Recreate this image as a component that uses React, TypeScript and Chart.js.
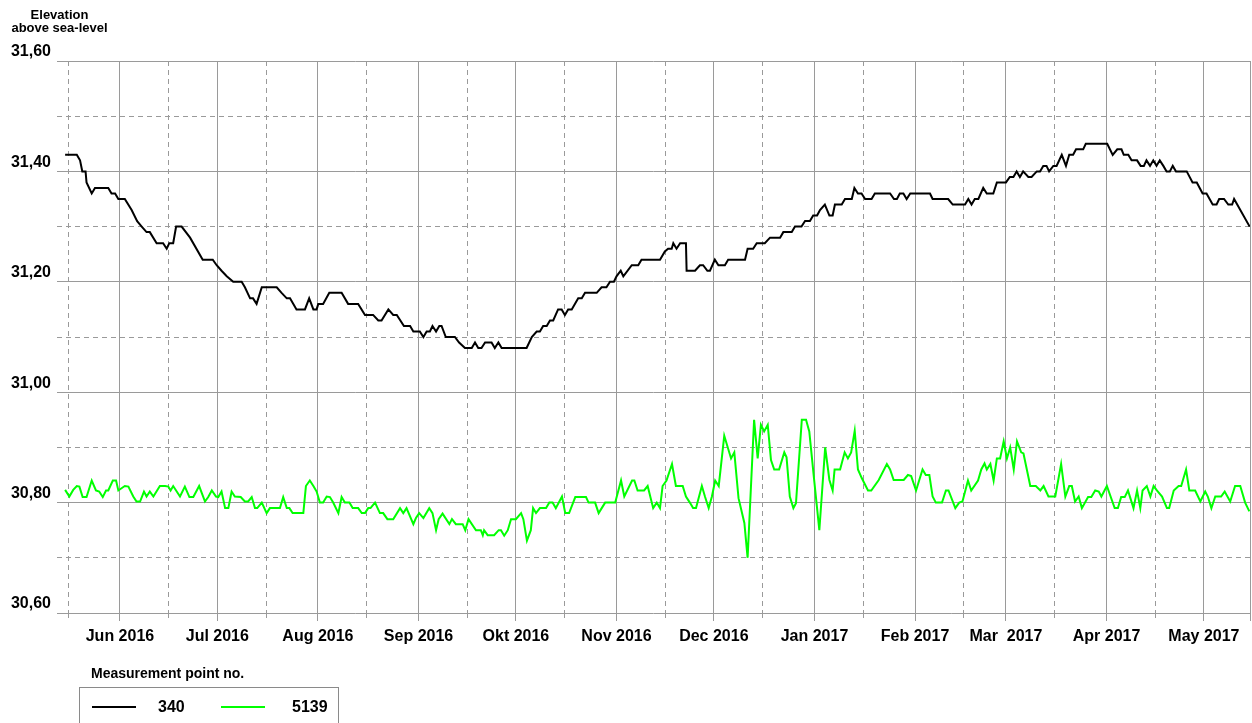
import React, { useEffect, useRef } from 'react';
import { Chart, registerables } from 'chart.js';

Chart.register(...registerables);

const FONT = "'Liberation Sans', Arial, Helvetica, sans-serif";

// x values are days counted from 1 June 2016
const MONTH_LABELS = ['Jun 2016', 'Jul 2016', 'Aug 2016', 'Sep 2016', 'Okt 2016', 'Nov 2016', 'Dec 2016', 'Jan 2017', 'Feb 2017', 'Mar  2017', 'Apr 2017', 'May 2017'];
const MONTH_START_DAYS = [0, 30, 61, 92, 122, 153, 183, 214, 245, 273, 304, 334];
const MID_MONTH_DAYS = [-16, 15, 45, 76, 107, 137, 168, 198, 229, 260, 288, 319];
const X_MIN = -19.4;
const X_MAX = 348.2;

const Y_MIN = 30.6;
const Y_MAX = 31.6;
const Y_STEP = 0.1;

const AXIS_TITLE = ['Elevation', 'above sea-level'];
const LEGEND_TITLE = 'Measurement point no.';
const SERIES_NAMES = ['340', '5139'];
const SERIES_COLORS = ['#000000', '#00ff00'];

// [day, elevation]
const LEVEL_340: [number, number][] = [
  [-16.9, 31.43], [-13.3, 31.43], [-12.3, 31.42], [-11.6, 31.40], [-10.6, 31.40], [-10.3, 31.38], [-8.7, 31.36], [-7.7, 31.37],
  [-3.6, 31.37], [-2.6, 31.36], [-1.5, 31.36], [-0.5, 31.35], [1.5, 31.35], [3.6, 31.33], [5.3, 31.31], [6.7, 31.30],
  [8.2, 31.29], [9.2, 31.29], [11.3, 31.27], [13.3, 31.27], [14.4, 31.26], [15.2, 31.27], [16.4, 31.27], [17.3, 31.30],
  [19.0, 31.30], [21.6, 31.28], [25.5, 31.24], [28.6, 31.24], [29.8, 31.23], [31.3, 31.22], [32.9, 31.21], [34.9, 31.20],
  [37.5, 31.20], [38.5, 31.19], [40.1, 31.17], [41.0, 31.17], [42.1, 31.16], [43.7, 31.19], [48.3, 31.19], [49.8, 31.18],
  [51.4, 31.17], [52.4, 31.17], [54.4, 31.15], [57.0, 31.15], [58.3, 31.17], [59.6, 31.15], [60.6, 31.15], [61.1, 31.16],
  [62.6, 31.16], [64.5, 31.18], [68.3, 31.18], [70.3, 31.16], [73.4, 31.16], [75.5, 31.14], [78.0, 31.14], [79.6, 31.13],
  [80.6, 31.13], [82.7, 31.15], [84.2, 31.14], [85.3, 31.14], [87.5, 31.12], [89.4, 31.12], [90.4, 31.11], [92.4, 31.11],
  [93.5, 31.10], [94.5, 31.11], [95.5, 31.11], [96.3, 31.12], [97.4, 31.11], [98.4, 31.12], [99.1, 31.12], [100.4, 31.10],
  [103.2, 31.10], [104.5, 31.09], [106.3, 31.08], [108.4, 31.08], [109.4, 31.09], [110.4, 31.08], [111.4, 31.08], [112.5, 31.09],
  [114.5, 31.09], [115.5, 31.08], [116.6, 31.09], [117.6, 31.08], [125.3, 31.08], [126.9, 31.10], [128.4, 31.11], [129.4, 31.11],
  [130.4, 31.12], [131.5, 31.12], [132.5, 31.13], [133.5, 31.13], [135.0, 31.15], [136.1, 31.15], [137.1, 31.14], [138.1, 31.15],
  [139.2, 31.15], [141.2, 31.17], [142.3, 31.17], [143.3, 31.18], [146.9, 31.18], [148.4, 31.19], [149.9, 31.19], [151.0, 31.20],
  [152.2, 31.20], [153.0, 31.21], [154.3, 31.22], [155.1, 31.21], [157.7, 31.23], [159.7, 31.23], [160.7, 31.24], [166.4, 31.24],
  [167.9, 31.255], [168.9, 31.26], [170.0, 31.26], [170.5, 31.27], [171.5, 31.26], [172.6, 31.27], [174.4, 31.27], [174.6, 31.22],
  [177.2, 31.22], [178.7, 31.23], [179.7, 31.23], [181.0, 31.22], [181.8, 31.22], [183.3, 31.24], [184.4, 31.23], [186.4, 31.23],
  [187.4, 31.24], [192.6, 31.24], [193.4, 31.26], [195.1, 31.26], [196.2, 31.27], [198.7, 31.27], [200.3, 31.28], [203.4, 31.28],
  [204.4, 31.29], [207.0, 31.29], [208.0, 31.30], [210.0, 31.30], [211.1, 31.31], [212.6, 31.31], [213.6, 31.32], [214.8, 31.32],
  [215.7, 31.33], [217.2, 31.34], [218.6, 31.32], [219.6, 31.32], [220.3, 31.34], [222.4, 31.34], [223.4, 31.35], [225.5, 31.35],
  [226.3, 31.37], [227.4, 31.36], [228.5, 31.36], [229.6, 31.35], [231.6, 31.35], [232.6, 31.36], [237.3, 31.36], [238.5, 31.35],
  [239.4, 31.35], [240.3, 31.36], [241.4, 31.36], [242.4, 31.35], [243.5, 31.36], [249.6, 31.36], [250.4, 31.35], [255.2, 31.35],
  [256.6, 31.34], [260.4, 31.34], [261.4, 31.35], [262.4, 31.34], [263.4, 31.35], [264.5, 31.35], [266.0, 31.37], [267.1, 31.36],
  [269.1, 31.36], [270.2, 31.38], [273.0, 31.38], [274.2, 31.39], [275.3, 31.39], [276.3, 31.40], [277.3, 31.39], [278.3, 31.40],
  [279.9, 31.39], [280.9, 31.39], [282.5, 31.40], [283.5, 31.40], [284.5, 31.41], [285.5, 31.41], [286.3, 31.40], [287.6, 31.41],
  [288.6, 31.41], [290.2, 31.43], [291.5, 31.41], [292.5, 31.43], [293.7, 31.43], [294.6, 31.44], [296.8, 31.44], [297.6, 31.45],
  [304.2, 31.45], [305.9, 31.43], [307.3, 31.44], [308.6, 31.44], [309.3, 31.43], [310.7, 31.43], [311.7, 31.42], [313.4, 31.42],
  [314.5, 31.41], [315.5, 31.41], [316.3, 31.42], [317.4, 31.41], [318.4, 31.42], [319.4, 31.41], [320.4, 31.42], [321.5, 31.41],
  [322.5, 31.40], [323.5, 31.40], [324.4, 31.41], [325.4, 31.40], [328.7, 31.40], [330.5, 31.38], [331.8, 31.38], [333.6, 31.36],
  [334.8, 31.36], [336.7, 31.34], [337.9, 31.34], [338.7, 31.35], [340.2, 31.35], [341.5, 31.34], [342.7, 31.34], [343.3, 31.35],
  [348.1, 31.30],
];

// [day, elevation]
const LEVEL_5139: [number, number][] = [
  [-16.9, 30.823], [-15.6, 30.811], [-14.4, 30.823], [-13.3, 30.83], [-12.5, 30.829], [-11.5, 30.81], [-10.3, 30.81], [-8.7, 30.84],
  [-7.4, 30.822], [-6.4, 30.82], [-5.3, 30.81], [-4.3, 30.822], [-3.6, 30.822], [-2.2, 30.84], [-1.2, 30.84], [-0.5, 30.822],
  [1.5, 30.83], [2.6, 30.829], [4.1, 30.811], [5.1, 30.802], [6.2, 30.802], [7.4, 30.82], [8.2, 30.811], [9.2, 30.82],
  [10.3, 30.811], [12.3, 30.83], [13.9, 30.83], [14.9, 30.829], [15.6, 30.822], [16.4, 30.83], [18.5, 30.811], [20.0, 30.829],
  [21.4, 30.81], [22.6, 30.81], [24.4, 30.83], [26.2, 30.802], [27.2, 30.81], [28.3, 30.822], [29.6, 30.811], [30.3, 30.81],
  [31.3, 30.82], [32.4, 30.79], [33.4, 30.79], [34.4, 30.82], [35.4, 30.811], [37.2, 30.81], [38.5, 30.802], [39.5, 30.802],
  [40.6, 30.81], [41.6, 30.79], [42.3, 30.79], [43.7, 30.80], [45.2, 30.781], [46.2, 30.79], [49.3, 30.79], [50.3, 30.81],
  [51.4, 30.79], [52.2, 30.79], [53.2, 30.781], [56.5, 30.781], [57.3, 30.83], [58.5, 30.84], [59.6, 30.83], [60.6, 30.82],
  [61.6, 30.80], [62.6, 30.80], [63.7, 30.811], [64.7, 30.81], [65.7, 30.80], [67.3, 30.781], [68.3, 30.81], [69.3, 30.80],
  [70.7, 30.80], [71.7, 30.79], [73.4, 30.79], [74.5, 30.781], [75.5, 30.781], [76.5, 30.79], [77.2, 30.79], [78.6, 30.80],
  [80.1, 30.781], [81.1, 30.781], [82.4, 30.77], [84.2, 30.77], [86.3, 30.79], [87.3, 30.781], [88.3, 30.79], [90.4, 30.761],
  [91.2, 30.772], [92.2, 30.781], [93.5, 30.772], [95.3, 30.79], [96.3, 30.781], [97.4, 30.75], [98.2, 30.77], [99.4, 30.78],
  [101.5, 30.761], [102.3, 30.77], [103.5, 30.761], [105.6, 30.761], [106.4, 30.75], [107.4, 30.77], [109.7, 30.75], [111.2, 30.75],
  [111.8, 30.741], [112.2, 30.75], [113.3, 30.741], [115.3, 30.741], [116.7, 30.75], [117.4, 30.75], [118.4, 30.74], [119.5, 30.75],
  [120.5, 30.77], [122.0, 30.77], [123.6, 30.781], [124.3, 30.77], [125.4, 30.731], [126.6, 30.75], [127.3, 30.79], [128.2, 30.781],
  [129.4, 30.79], [131.3, 30.79], [132.3, 30.80], [133.3, 30.80], [134.3, 30.79], [136.2, 30.811], [137.2, 30.781], [138.4, 30.781],
  [140.3, 30.81], [143.6, 30.81], [144.4, 30.80], [146.4, 30.80], [147.5, 30.781], [149.5, 30.80], [152.6, 30.80], [154.4, 30.84],
  [155.4, 30.811], [157.8, 30.84], [158.5, 30.84], [159.5, 30.822], [161.5, 30.822], [162.6, 30.83], [164.3, 30.79], [165.4, 30.80],
  [166.4, 30.79], [167.2, 30.83], [168.4, 30.84], [170.1, 30.87], [171.3, 30.83], [173.4, 30.83], [174.4, 30.811], [175.6, 30.80],
  [176.6, 30.79], [177.5, 30.79], [179.3, 30.83], [180.3, 30.81], [181.4, 30.79], [182.4, 30.811], [183.4, 30.84], [184.5, 30.83],
  [186.2, 30.921], [188.3, 30.88], [189.3, 30.891], [190.6, 30.808], [192.4, 30.763], [193.4, 30.70], [195.4, 30.95], [196.5, 30.88],
  [197.5, 30.941], [198.5, 30.929], [199.6, 30.941], [200.6, 30.877], [201.6, 30.86], [203.1, 30.86], [204.7, 30.891], [205.4, 30.882],
  [206.4, 30.811], [207.5, 30.79], [208.3, 30.799], [210.1, 30.95], [211.4, 30.95], [212.4, 30.929], [213.9, 30.841], [215.5, 30.75],
  [217.3, 30.90], [218.6, 30.841], [219.6, 30.822], [220.2, 30.86], [221.9, 30.86], [223.3, 30.891], [224.3, 30.88], [225.3, 30.891],
  [226.4, 30.93], [227.4, 30.86], [228.6, 30.844], [230.5, 30.822], [231.5, 30.822], [233.8, 30.841], [236.3, 30.87], [237.3, 30.86],
  [238.4, 30.841], [241.5, 30.841], [242.8, 30.85], [243.8, 30.848], [245.3, 30.822], [247.3, 30.86], [248.3, 30.85], [249.4, 30.85],
  [250.4, 30.811], [251.4, 30.80], [253.3, 30.80], [254.5, 30.822], [255.3, 30.822], [257.4, 30.79], [258.6, 30.80], [259.6, 30.802],
  [261.3, 30.84], [262.3, 30.822], [264.4, 30.84], [265.4, 30.86], [266.4, 30.871], [267.1, 30.86], [268.2, 30.87], [269.2, 30.84],
  [270.2, 30.88], [271.2, 30.88], [272.3, 30.911], [273.3, 30.88], [274.3, 30.90], [275.4, 30.86], [276.4, 30.911], [277.7, 30.891],
  [278.4, 30.889], [280.5, 30.83], [282.2, 30.83], [283.6, 30.822], [284.6, 30.83], [286.1, 30.811], [288.2, 30.811], [290.0, 30.87],
  [291.3, 30.811], [292.5, 30.83], [293.3, 30.83], [294.3, 30.802], [295.4, 30.811], [296.4, 30.79], [298.3, 30.81], [299.3, 30.81],
  [300.5, 30.822], [301.6, 30.82], [302.4, 30.811], [304.1, 30.83], [306.5, 30.79], [307.5, 30.79], [308.5, 30.81], [309.6, 30.81],
  [310.6, 30.822], [312.3, 30.79], [313.4, 30.822], [314.4, 30.79], [315.1, 30.822], [316.4, 30.83], [317.5, 30.811], [318.5, 30.83],
  [319.5, 30.822], [321.1, 30.811], [322.6, 30.79], [323.3, 30.79], [324.7, 30.822], [326.2, 30.83], [327.0, 30.83], [328.5, 30.86],
  [329.5, 30.822], [331.3, 30.822], [332.9, 30.802], [334.4, 30.82], [335.2, 30.811], [336.3, 30.79], [337.5, 30.811], [339.3, 30.811],
  [340.4, 30.82], [342.1, 30.802], [343.6, 30.83], [345.2, 30.83], [346.7, 30.80], [348.0, 30.784],
];

const SERIES_DATA = [LEVEL_340, LEVEL_5139];

const GRID_COLOR = '#9a9a9a';
const DASH = [5, 4];

export default function App() {
  const canvasRef = useRef<HTMLCanvasElement>(null);

  useEffect(() => {
    const labelByDay = new Map<number, string>(MONTH_START_DAYS.map((d, i) => [d, MONTH_LABELS[i]]));
    const xTickValues = [...MONTH_START_DAYS, ...MID_MONTH_DAYS, X_MAX].sort((a, b) => a - b);
    const nY = Math.round((Y_MAX - Y_MIN) / Y_STEP);
    const yTickValues: number[] = [];
    for (let i = 0; i <= nY; i++) yTickValues.push(Math.round((Y_MIN + i * Y_STEP) * 100) / 100);

    const xMajor = (v: number) => labelByDay.has(v) || v === X_MAX;
    const yMajor = (v: number) => Math.round(v * 10) % 2 === 0;

    const chart = new Chart(canvasRef.current as HTMLCanvasElement, {
      type: 'line',
      data: {
        datasets: SERIES_DATA.map((series, i) => ({
          label: SERIES_NAMES[i],
          data: series.map(([x, y]) => ({ x, y })),
          borderColor: SERIES_COLORS[i],
          backgroundColor: SERIES_COLORS[i],
          borderWidth: 2,
          pointRadius: 0,
          tension: 0,
          fill: false,
        })),
      },
      options: {
        animation: false,
        responsive: true,
        maintainAspectRatio: false,
        layout: { padding: { top: 61, right: 2, bottom: 70, left: 0 } },
        plugins: {
          legend: { display: false },
          tooltip: { enabled: false },
          title: { display: false },
        },
        scales: {
          x: {
            type: 'linear',
            min: X_MIN,
            max: X_MAX,
            afterBuildTicks: (scale: any) => {
              scale.ticks = xTickValues.map((value) => ({ value }));
            },
            afterFit: (scale: any) => {
              scale.height = 40;
              scale.paddingLeft = 0;
              scale.paddingRight = 0;
            },
            ticks: {
              autoSkip: false,
              maxRotation: 0,
              minRotation: 0,
              padding: 6,
              color: '#000',
              font: { family: FONT, size: 16, weight: 'bold' },
              callback: (value: any) => labelByDay.get(Number(value)) ?? '',
            },
            grid: {
              color: GRID_COLOR,
              lineWidth: 1,
              drawTicks: true,
              tickLength: 8,
              tickColor: GRID_COLOR,
              tickBorderDash: (ctx: any) => (ctx.tick && !xMajor(ctx.tick.value) ? DASH : []),
            },
            border: {
              display: false,
              dash: (ctx: any) => (ctx.tick && !xMajor(ctx.tick.value) ? DASH : []),
            },
          },
          y: {
            type: 'linear',
            min: Y_MIN,
            max: Y_MAX,
            afterBuildTicks: (scale: any) => {
              scale.ticks = yTickValues.map((value) => ({ value }));
            },
            afterFit: (scale: any) => {
              scale.width = 57;
              scale.paddingTop = 0;
              scale.paddingBottom = 0;
            },
            ticks: {
              autoSkip: false,
              padding: 6,
              labelOffset: -9,
              color: '#000',
              font: { family: FONT, size: 16, weight: 'bold' },
              callback: (value: any) => (yMajor(Number(value)) ? Number(value).toFixed(2).replace('.', ',') : ''),
            },
            grid: {
              color: GRID_COLOR,
              lineWidth: 1,
              drawTicks: false,
            },
            border: {
              display: false,
              dash: (ctx: any) => (ctx.tick && !yMajor(ctx.tick.value) ? DASH : []),
            },
          },
        },
      } as any,
    });

    return () => chart.destroy();
  }, []);

  return (
    <div
      style={{
        position: 'absolute',
        left: 0,
        top: 0,
        width: 1252,
        height: 723,
        overflow: 'hidden',
        background: '#fff',
        fontFamily: FONT,
        color: '#000',
      }}
    >
      <div style={{ position: 'absolute', left: 0, top: 0, width: 1252, height: 723 }}>
        <canvas ref={canvasRef} />
      </div>
      <div
        style={{
          position: 'absolute',
          left: 0,
          top: 8,
          width: 119,
          textAlign: 'center',
          fontSize: 13,
          fontWeight: 'bold',
          lineHeight: '13px',
          whiteSpace: 'nowrap',
        }}
      >
        {AXIS_TITLE.map((t) => (
          <div key={t}>{t}</div>
        ))}
      </div>
      <div
        style={{
          position: 'absolute',
          left: 91,
          top: 665,
          fontSize: 14,
          fontWeight: 'bold',
          lineHeight: '16px',
          whiteSpace: 'nowrap',
        }}
      >
        {LEGEND_TITLE}
      </div>
      <div
        style={{
          position: 'absolute',
          left: 79,
          top: 687,
          width: 260,
          height: 60,
          border: '1px solid #8a8a8a',
          boxSizing: 'border-box',
        }}
      />
      {SERIES_NAMES.map((name, i) => (
        <React.Fragment key={name}>
          <div
            style={{
              position: 'absolute',
              left: i === 0 ? 92 : 221,
              top: 706,
              width: 44,
              height: 2,
              background: SERIES_COLORS[i],
            }}
          />
          <div
            style={{
              position: 'absolute',
              left: i === 0 ? 158 : 292,
              top: 698,
              fontSize: 16,
              fontWeight: 'bold',
              lineHeight: '18px',
              whiteSpace: 'nowrap',
            }}
          >
            {name}
          </div>
        </React.Fragment>
      ))}
    </div>
  );
}
